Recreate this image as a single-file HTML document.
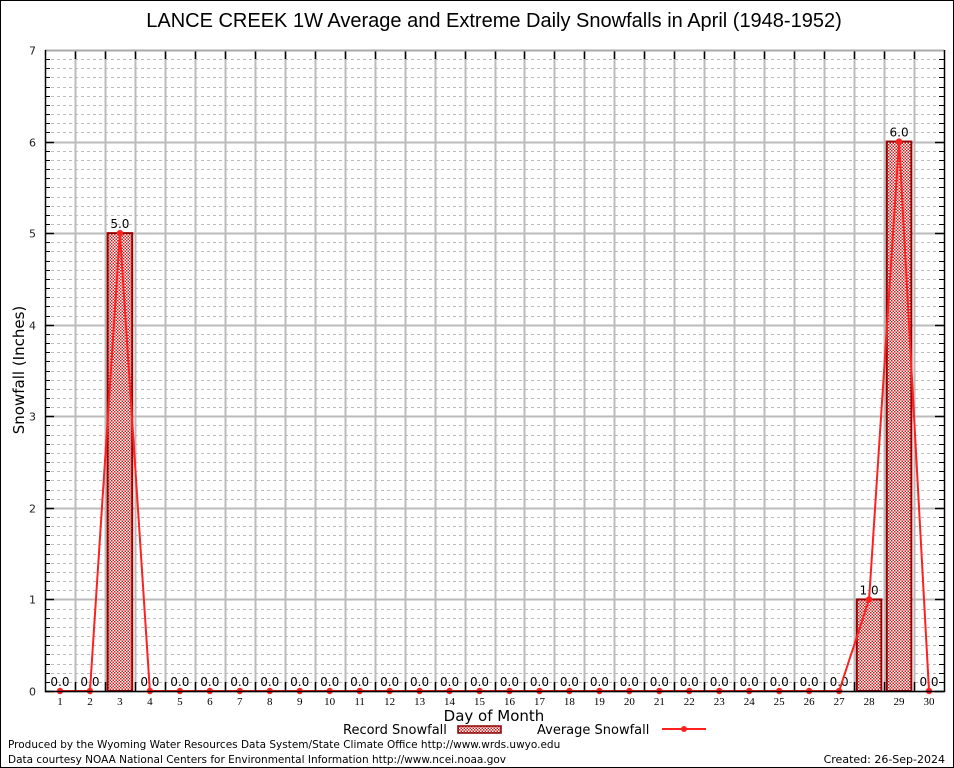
<!DOCTYPE html>
<html><head><meta charset="utf-8">
<style>
html,body{margin:0;padding:0;background:#fff}
svg{display:block;font-family:"DejaVu Sans","Liberation Sans",sans-serif}
</style></head>
<body>
<svg id="chart" width="954" height="768" viewBox="0 0 954 768">
<defs>
<pattern id="chk" width="3" height="3" patternUnits="userSpaceOnUse">
<rect width="3" height="3" fill="#fff"/>
<rect width="1.5" height="1.5" fill="#cc2222"/>
<rect x="1.5" y="1.5" width="1.5" height="1.5" fill="#cc2222"/>
</pattern>
</defs>
<rect x="0.5" y="0.5" width="953" height="767" fill="#fff" stroke="#000"/>
<text x="494" y="27" font-size="20" text-anchor="middle" font-family="Liberation Sans, sans-serif">LANCE CREEK 1W Average and Extreme Daily Snowfalls in April (1948-1952)</text>
<g id="grid"></g>
<g id="bars"></g>
<g id="line"></g>
<g id="axes"></g>
<text x="24" y="370" font-size="15" text-anchor="middle" transform="rotate(-90 24 370)">Snowfall (Inches)</text>
<text x="494" y="721" font-size="15" text-anchor="middle">Day of Month</text>
<g>
<text x="343" y="734" font-size="13">Record Snowfall</text>
<rect x="458" y="726" width="43" height="7" fill="url(#chk)" stroke="#8b0000" stroke-width="1.5"/>
<text x="537" y="734" font-size="13">Average Snowfall</text>
<line x1="662" y1="729" x2="706" y2="729" stroke="#ff2020" stroke-width="2"/>
<circle cx="684" cy="729" r="3" fill="#ff2020"/>
</g>
<text x="8" y="748" font-size="10.5">Produced by the Wyoming Water Resources Data System/State Climate Office http://www.wrds.uwyo.edu</text>
<text x="8" y="763" font-size="10.5">Data courtesy NOAA National Centers for Environmental Information http://www.ncei.noaa.gov</text>
<text x="945" y="763" font-size="11" text-anchor="end">Created: 26-Sep-2024</text>
</svg>
<script>
const days = [1,2,3,4,5,6,7,8,9,10,11,12,13,14,15,16,17,18,19,20,21,22,23,24,25,26,27,28,29,30];
const recordSnow = [0,0,5,0,0,0,0,0,0,0,0,0,0,0,0,0,0,0,0,0,0,0,0,0,0,0,0,1,6,0];
const avgSnow = [0,0,5,0,0,0,0,0,0,0,0,0,0,0,0,0,0,0,0,0,0,0,0,0,0,0,0,1,6,0];
const yTicks = [0,1,2,3,4,5,6,7];

const NS="http://www.w3.org/2000/svg";
const pL=45,pR=944,pT=50,pB=691,yMax=7;
const step=(pR-pL)/days.length;
const xs=d=>pL+(d-0.5)*step;
const ys=v=>pB-(v/yMax)*(pB-pT);
function mk(tag,attrs,parent){const e=document.createElementNS(NS,tag);for(const k in attrs)e.setAttribute(k,attrs[k]);parent.appendChild(e);return e;}
const gridG=document.getElementById('grid'),barsG=document.getElementById('bars'),lineG=document.getElementById('line'),axesG=document.getElementById('axes');

for(let i=1;i<yMax*10;i++){if(i%10===0)continue;const yy=Math.round(ys(i/10))+0.5;
 const g=mk('line',{x1:pL,x2:pR,y1:yy,y2:yy,stroke:'#bbb','stroke-dasharray':'3,3','stroke-width':1},gridG);
 
 
 const t1=mk('line',{x1:pL,x2:pL+5,y1:yy,y2:yy,stroke:'#000'},axesG);
 
 
 const t2=mk('line',{x1:pR-5,x2:pR,y1:yy,y2:yy,stroke:'#000'},axesG);
 
 
}
yTicks.forEach(v=>{const yy=Math.round(ys(v))+0.5;
 const g=mk('line',{x1:pL,x2:pR,y1:yy,y2:yy,stroke:'#bbb','stroke-width':2},gridG);
 
 
 const t=mk('line',{x1:pL,x2:pL+9,y1:yy,y2:yy,stroke:'#000','stroke-width':1.5},axesG);
 
 
 const t2=mk('line',{x1:pR-9,x2:pR,y1:yy,y2:yy,stroke:'#000','stroke-width':1.5},axesG);
 
 
 const lb=mk('text',{x:pL-9,y:yy+4,'font-size':11,'text-anchor':'end',fill:'#222'},axesG);
 lb.textContent=v;
 
 
});
for(let i=1;i<days.length;i++){const xx=Math.round(pL+i*step)+0.5;
 const g=mk('line',{x1:xx,x2:xx,y1:pT,y2:pB,stroke:'#bbb','stroke-width':2},gridG);
 
 
 const t=mk('line',{x1:xx,x2:xx,y1:pB-9,y2:pB,stroke:'#000','stroke-width':1.5},axesG);
 
 
 const t2=mk('line',{x1:xx,x2:xx,y1:pT,y2:pT+9,stroke:'#000','stroke-width':1.5},axesG);
 
 
}
const bw=step*0.82;
days.forEach((d,i)=>{const v=recordSnow[i];
 if(v>0){const b=mk('rect',{x:xs(d)-bw/2,y:ys(v),width:bw,height:pB-ys(v),fill:'url(#chk)',stroke:'#990000','stroke-width':2},barsG);
  
  }
 const lb=mk('text',{x:xs(d),y:ys(v)-5,'font-size':12,'text-anchor':'middle',fill:'#000'},barsG);
 lb.textContent=v.toFixed(1);
 
 
 const xl=mk('text',{x:xs(d),y:pB+14,'font-size':11,'text-anchor':'middle','font-family':'Liberation Serif, serif'},axesG);
 xl.textContent=d;
 
 
});
const pts=days.map((d,i)=>xs(d)+','+ys(avgSnow[i])).join(' ');
const pl=mk('polyline',{points:pts,fill:'none',stroke:'#ff2020','stroke-width':2},lineG);


days.forEach((d,i)=>{const c=mk('circle',{cx:xs(d),cy:ys(avgSnow[i]),r:3.2,fill:'#ff2020'},lineG);
 
 });
const plotTopBorder=mk('line',{x1:pL,x2:pR,y1:pT+0.5,y2:pT+0.5,stroke:'#aaa','stroke-width':2},axesG);


const axisFrame=mk('path',{d:`M${pL+0.5},${pT} V${pB+0.5} H${pR+0.5} V${pT}`,fill:'none',stroke:'#000','stroke-width':1.5},axesG);


</script>
</body></html>
